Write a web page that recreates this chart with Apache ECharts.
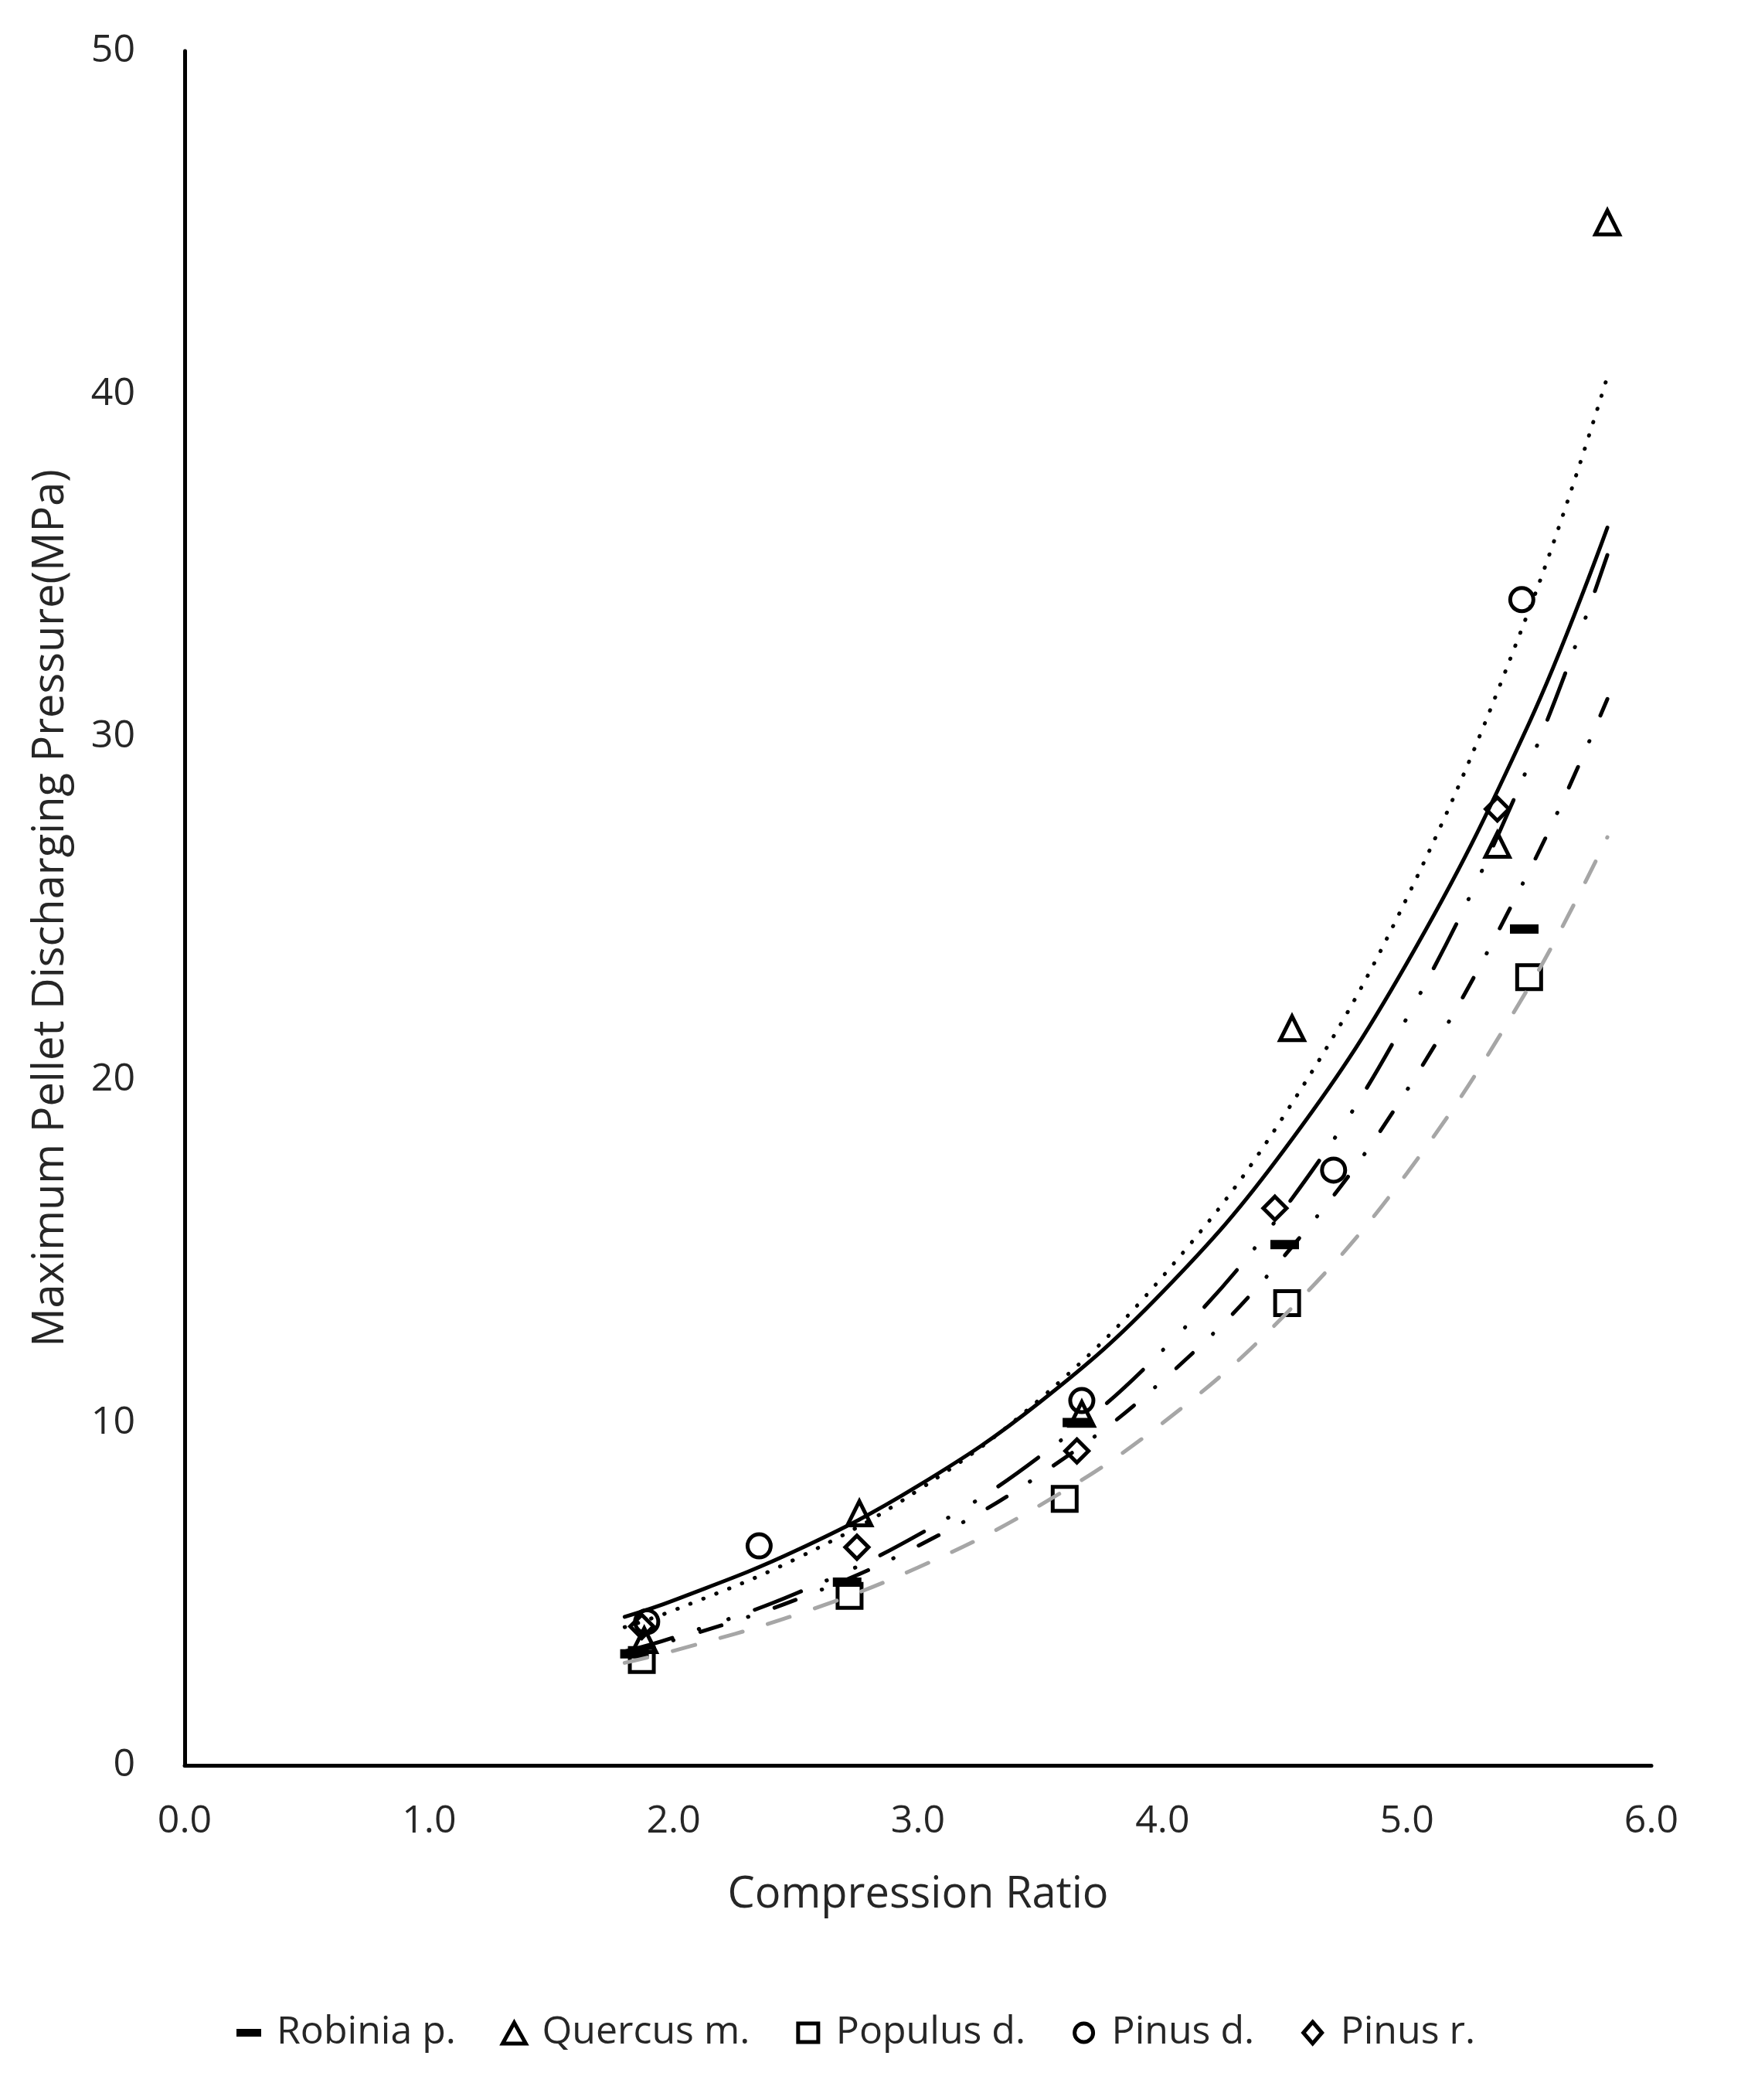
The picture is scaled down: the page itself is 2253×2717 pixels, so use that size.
<!DOCTYPE html>
<html>
<head>
<meta charset="utf-8">
<title>Maximum Pellet Discharging Pressure</title>
<script src="https://cdn.jsdelivr.net/npm/echarts@6/dist/echarts.min.js"></script>
<style>
  html, body { margin: 0; padding: 0; background: #fff; }
  #main { width: 2253px; height: 2717px; }
</style>
</head>
<body>
<div id="main"></div>
<script>
// measured points
var robiniaX = [1.84, 2.71, 3.65, 4.50, 5.48];
var robiniaY = [3.25, 5.34, 10.0, 15.19, 24.39];
var quercusX = [1.88, 2.76, 3.67, 4.53, 5.37, 5.82];
var quercusY = [3.65, 7.35, 10.25, 21.5, 26.85, 45.0];
var populusX = [1.87, 2.72, 3.60, 4.51, 5.50];
var populusY = [3.07, 4.94, 7.77, 13.48, 22.99];
var pinusDX = [1.89, 2.35, 3.67, 4.70, 5.47];
var pinusDY = [4.19, 6.40, 10.64, 17.36, 34.0];
var pinusRX = [1.87, 2.75, 3.65, 4.46, 5.37];
var pinusRY = [4.05, 6.36, 9.17, 16.25, 27.89];

// trend lines
var trendX = [1.8, 2.0, 2.5, 3.0, 3.5, 4.0, 4.5, 5.0, 5.5, 5.82];
var robiniaTrend = [3.26, 3.65, 4.83, 6.40, 8.48, 11.22, 14.87, 19.69, 26.08, 31.1];
var quercusTrend = [4.03, 4.52, 6.02, 8.02, 10.69, 14.25, 18.98, 25.3, 33.7, 40.5];
var populusTrend = [2.99, 3.34, 4.39, 5.77, 7.59, 9.98, 13.13, 17.27, 22.71, 27.07];
var pinusDTrend = [4.33, 4.81, 6.26, 8.15, 10.6, 13.8, 17.97, 23.4, 30.4, 36.1];
var pinusRTrend = [3.32, 3.73, 5.01, 6.72, 9.02, 12.1, 16.24, 21.8, 29.2, 35.3];

var xTicks = [0, 1, 2, 3, 4, 5, 6];
var yTicks = [0, 10, 20, 30, 40, 50];

(function () {
  var chartDom = document.getElementById('main');
  var myChart = echarts.init(chartDom);
  var font = "'Open Sans', 'Noto Sans', sans-serif";
  var textColor = '#262626';

  function pairs(xs, ys) {
    return xs.map(function (x, i) { return [x, ys[i]]; });
  }

  var hollow = { color: 'rgba(0,0,0,0)', borderColor: '#000', borderWidth: 5, opacity: 1 };
  var legendHollow = { color: 'rgba(0,0,0,0)', borderColor: '#000', borderWidth: 5 };

  function trend(name, ys, color, type) {
    return {
      name: name + ' trend',
      type: 'line',
      data: pairs(trendX, ys),
      smooth: 0.4,
      symbol: 'none',
      silent: true,
      z: 4,
      lineStyle: { color: color, width: 5, type: type, cap: 'round' }
    };
  }

  var option = {
    backgroundColor: '#fff',
    animation: false,
    grid: { left: 239, right: 116, top: 66, bottom: 433 },
    legend: {
      left: 300,
      top: 2600,
      itemWidth: 48,
      itemHeight: 32,
      itemGap: 56,
      textStyle: { fontFamily: font, fontSize: 50, color: textColor },
      // icons keep a blank strip on the right so the text sits further away
      data: [
        { name: 'Robinia p.', icon: 'path://M0,0M48,32M1,11H33V21H1Z', itemStyle: { color: '#000', borderWidth: 0 } },
        { name: 'Quercus m.', icon: 'path://M0,0M48,32M17,3L32,30H2Z', itemStyle: legendHollow },
        { name: 'Populus d.', icon: 'path://M0,0M48,32M4,4H30V28H4Z', itemStyle: legendHollow },
        { name: 'Pinus d.', icon: 'path://M0,0M48,32M5,16A12,12,0,1,1,29,16A12,12,0,1,1,5,16Z', itemStyle: legendHollow },
        { name: 'Pinus r.', icon: 'path://M0,0M48,32M17,2L29,16L17,30L5,16Z', itemStyle: legendHollow }
      ]
    },
    xAxis: {
      type: 'value',
      min: xTicks[0],
      max: xTicks[xTicks.length - 1],
      interval: 1,
      name: 'Compression Ratio',
      nameLocation: 'middle',
      nameGap: 140,
      nameTextStyle: { fontFamily: font, fontSize: 56, color: textColor },
      axisLine: { show: true, lineStyle: { color: '#000', width: 5 } },
      axisTick: { show: false },
      splitLine: { show: false },
      axisLabel: {
        margin: 48,
        fontFamily: font,
        fontSize: 50,
        color: textColor,
        formatter: function (v) { return v.toFixed(1); }
      }
    },
    yAxis: {
      type: 'value',
      min: yTicks[0],
      max: yTicks[yTicks.length - 1],
      interval: 10,
      name: 'Maximum Pellet Discharging Pressure(MPa)',
      nameLocation: 'middle',
      nameGap: 145,
      nameTextStyle: { fontFamily: font, fontSize: 56, color: textColor },
      axisLine: { show: true, lineStyle: { color: '#000', width: 5 } },
      axisTick: { show: false },
      splitLine: { show: false },
      axisLabel: { margin: 64, fontFamily: font, fontSize: 50, color: textColor }
    },
    series: [
      {
        name: 'Robinia p.', type: 'scatter', data: pairs(robiniaX, robiniaY),
        symbol: 'rect', symbolSize: [37, 12], z: 3,
        itemStyle: { color: '#000', opacity: 1 }
      },
      {
        name: 'Quercus m.', type: 'scatter', data: pairs(quercusX, quercusY),
        symbol: 'triangle', symbolSize: 31, z: 3, itemStyle: hollow
      },
      {
        name: 'Populus d.', type: 'scatter', data: pairs(populusX, populusY),
        symbol: 'rect', symbolSize: 31, z: 3, itemStyle: hollow
      },
      {
        name: 'Pinus d.', type: 'scatter', data: pairs(pinusDX, pinusDY),
        symbol: 'circle', symbolSize: 30, z: 3, itemStyle: hollow
      },
      {
        name: 'Pinus r.', type: 'scatter', data: pairs(pinusRX, pinusRY),
        symbol: 'diamond', symbolSize: 30, z: 3, itemStyle: hollow
      },
      trend('Quercus m.', quercusTrend, '#000', [0.5, 17.5]),
      trend('Pinus d.', pinusDTrend, '#000', 'solid'),
      trend('Pinus r.', pinusRTrend, '#000', [64, 36, 0.5, 40, 0.5, 36]),
      trend('Robinia p.', robiniaTrend, '#000', [29, 36, 0.5, 36]),
      trend('Populus d.', populusTrend, '#a6a6a6', [30, 34])
    ]
  };

  option && myChart.setOption(option);
})();
</script>
</body>
</html>
